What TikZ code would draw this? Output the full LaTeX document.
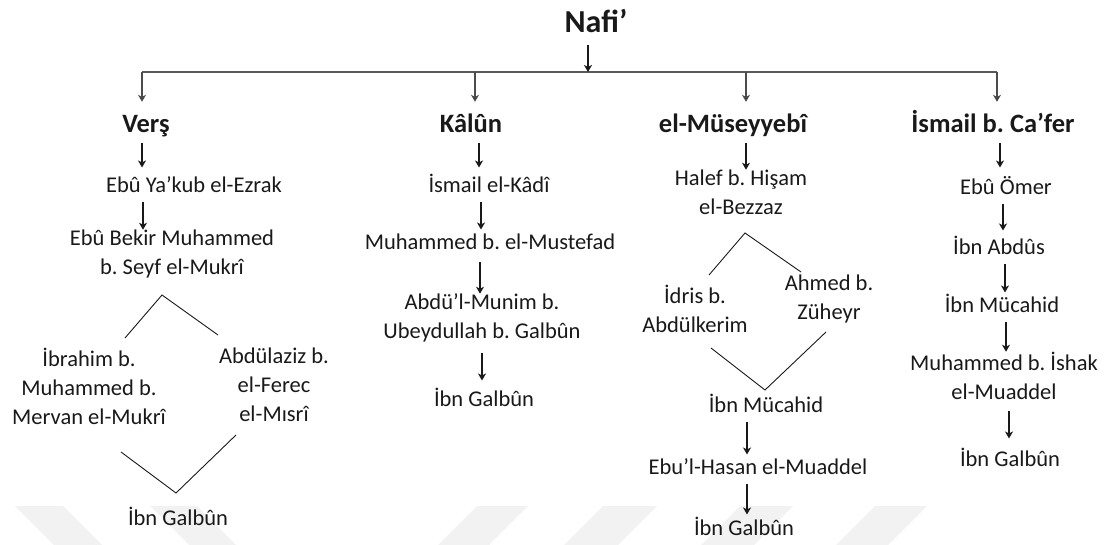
\documentclass[tikz,border=0pt]{standalone}
\usepackage{fontspec}
\setmainfont{Carlito}
\usetikzlibrary{arrows.meta,calc}
\frenchspacing
\begin{document}
\begin{tikzpicture}[x=1pt,y=-1pt,
  txt/.style={inner sep=0pt, text=black!90, align=center,
    font=\fontsize{22.5}{29}\selectfont,
    execute at begin node=\strut, execute at end node=\strut},
  hdr/.style={txt, font=\fontsize{26.5}{32}\selectfont\bfseries},
  topname/.style={txt, font=\fontsize{32}{38}\selectfont\bfseries},
  one/.style={txt, anchor=base},
  multi/.style={txt, anchor=north},
  arr/.style={draw=black!90, line width=1.2pt, -{Stealth[length=7pt,width=8pt,inset=2pt]}},
  drop/.style={draw=black!70, line width=1.2pt, -{Stealth[length=7pt,width=8pt,inset=2pt,fill=black!90]}},
  bus/.style={draw=black!65, line width=1.4pt},
  thin/.style={draw=black!90, line width=0.9pt},
  wm/.style={fill=black!5, draw=none}]
\useasboundingbox (0,0) rectangle (1112,545);

% watermark bands
\fill[wm] (15,506) -- (63,506) -- (102,545) -- (54,545) -- cycle;
\fill[wm] (150,506) -- (197,506) -- (236,545) -- (189,545) -- cycle;
\fill[wm] (477,506) -- (528,506) -- (489,545) -- (438,545) -- cycle;
\fill[wm] (603,506) -- (657,506) -- (618,545) -- (564,545) -- cycle;
\fill[wm] (740,506) -- (793,506) -- (754,545) -- (701,545) -- cycle;
\fill[wm] (875,506) -- (927,506) -- (888,545) -- (836,545) -- cycle;

% top
\node[topname, anchor=base] (nafi) at (596,33) {Nafi’};
\coordinate (bn) at (588,72);
\coordinate (b1) at (142,72);
\coordinate (b2) at (475,72);
\coordinate (b3) at (746,72);
\coordinate (b4) at (997,72);
\draw[bus] (b1) -- (b4);
\draw[arr] (nafi.south -| bn) -- (bn);

% headers
\node[hdr, anchor=base] (vers) at (146,133) {Verş};
\node[hdr, anchor=base] (kalun) at (471,133) {Kâlûn};
\node[hdr, anchor=base] (museyyebi) at (733,133) {el-Müseyyebî};
\node[hdr, anchor=base] (ismail) at (993,133) {İsmail b. Ca’fer};

\draw[drop, shorten >=8.6pt] (b1) -- (vers.north -| b1);
\draw[drop, shorten >=8.6pt] (b2) -- (kalun.north -| b2);
\draw[drop, shorten >=8.6pt] (b3) -- (museyyebi.north -| b3);
\draw[drop, shorten >=8.6pt] (b4) -- (ismail.north -| b4);

% Verş column
\node[one] (ezrak) at (194,193) {Ebû Ya’kub el-Ezrak};
\node[multi] (bekir) at (172,229.7) {Ebû Bekir Muhammed\\b. Seyf el-Mukrî};
\node[multi] (ibrahim) at (89,347.7) {İbrahim b.\\Muhammed b.\\Mervan el-Mukrî};
\node[multi] (abdulaziz) at (274,347.7) {Abdülaziz b.\\el-Ferec\\el-Mısrî};
\node[one] (galbun1) at (178,525) {İbn Galbûn};
\draw[arr, shorten >=5pt] (vers.south -| 142,0) -- (ezrak.north -| 142,0);
\draw[arr] (ezrak.south -| 143,0) -- (bekir.north -| 143,0);
\coordinate (v1top) at (162,295);
\coordinate (v1l) at (125,338);
\coordinate (v1r) at (218,335);
\draw[thin] (v1l) -- (v1top) -- (v1r);
\coordinate (v1bl) at (121,452);
\coordinate (v1bot) at (176,493);
\coordinate (v1br) at (236,435);
\draw[thin] (v1bl) -- (v1bot) -- (v1br);

% Kâlûn column
\node[one] (kadi) at (489,193) {İsmail el-Kâdî};
\node[one] (mustefad) at (490,250) {Muhammed b. el-Mustefad};
\node[multi] (munim) at (482,293.7) {Abdü’l-Munim b.\\Ubeydullah b. Galbûn};
\node[one] (galbun2) at (484,407) {İbn Galbûn};
\draw[arr, shorten >=5pt] (kalun.south -| 479,0) -- (kadi.north -| 479,0);
\draw[arr] (kadi.south -| 481,0) -- (mustefad.north -| 481,0);
\draw[arr, shorten <=3pt] (mustefad.south -| 480,0) -- (munim.north -| 480,0);
\draw[arr, shorten <=5pt, shorten >=6pt] (munim.south -| 482,0) -- (galbun2.north -| 482,0);

% el-Müseyyebî column
\node[multi] (halef) at (741,169.7) {Halef b. Hişam\\el-Bezzaz};
\node[multi] (idris) at (695,284.7) {İdris b.\\Abdülkerim};
\node[multi] (ahmed) at (829,274.7) {Ahmed b.\\Züheyr};
\node[one] (mucahid2) at (766,413) {İbn Mücahid};
\node[one] (hasan) at (758,475) {Ebu’l-Hasan el-Muaddel};
\node[one] (galbun3) at (744,535) {İbn Galbûn};
\draw[arr] (museyyebi.south -| 746,0) -- (halef.north -| 746,0);
\coordinate (v2top) at (745,233);
\coordinate (v2l) at (709,275);
\coordinate (v2r) at (801,272);
\draw[thin] (v2l) -- (v2top) -- (v2r);
\coordinate (v2bl) at (711,348);
\coordinate (v2bot) at (765,390);
\coordinate (v2br) at (826,332);
\draw[thin] (v2bl) -- (v2bot) -- (v2br);
\draw[arr] (mucahid2.south -| 747,0) -- (hasan.north -| 747,0);
\draw[arr] (hasan.south -| 747,0) -- (galbun3.north -| 747,0);

% İsmail b. Ca'fer column
\node[one] (omer) at (1006,195) {Ebû Ömer};
\node[one] (abdus) at (999,255) {İbn Abdûs};
\node[one] (mucahid4) at (1002,313) {İbn Mücahid};
\node[multi] (ishak) at (1004,351.7) {Muhammed b. İshak\\el-Muaddel};
\node[one] (galbun4) at (1010,467) {İbn Galbûn};
\draw[arr, shorten >=7pt] (ismail.south -| 1000,0) -- (omer.north -| 1000,0);
\draw[arr, shorten >=4pt] (omer.south -| 1003,0) -- (abdus.north -| 1003,0);
\draw[arr] (abdus.south -| 1005,0) -- (mucahid4.north -| 1005,0);
\draw[arr] (mucahid4.south -| 1006,0) -- (ishak.north -| 1006,0);
\draw[arr, shorten <=3pt, shorten >=8pt] (ishak.south -| 1009,0) -- (galbun4.north -| 1009,0);
\end{tikzpicture}
\end{document}
